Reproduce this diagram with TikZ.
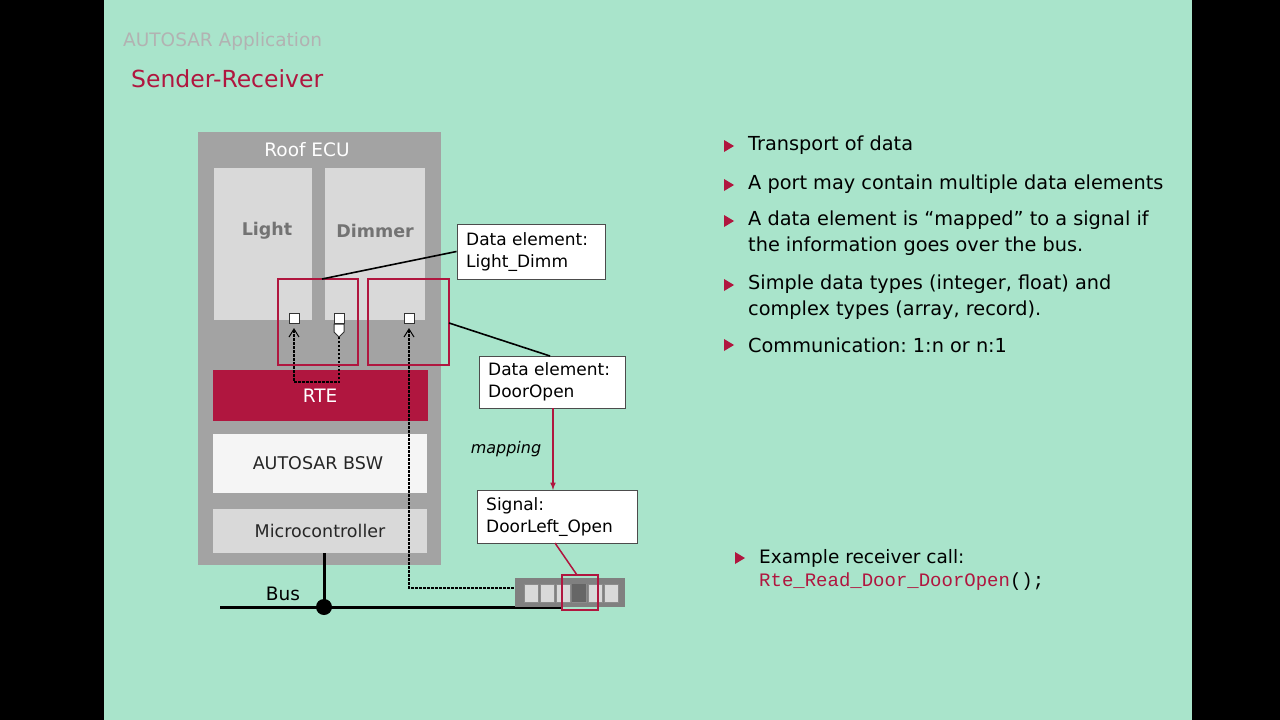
\documentclass[tikz,border=0pt]{standalone}
\usepackage{fontspec}
\setmainfont{DejaVu Sans}
\setmonofont{Liberation Mono}
\begin{document}
\begin{tikzpicture}[x=1pt,y=-1pt,
 txt/.style={inner sep=0pt,anchor=west,font=\fontsize{19.3}{26}\selectfont},
 lbl/.style={draw=black!70,fill=white,line width=1pt,inner sep=0pt},
 redbox/.style={draw=crim,line width=2.2pt},
 port/.style={draw=black!80,fill=white,line width=1pt,minimum size=10pt,inner sep=0pt},
 dsh/.style={line width=2pt,dash pattern=on 2.5pt off 1.5pt}]
\definecolor{bg}{HTML}{A9E4CB}
\definecolor{crim}{HTML}{B0163F}
\definecolor{ecu}{HTML}{A3A3A3}
\definecolor{lg}{HTML}{D9D9D9}
\fill[black] (0,0) rectangle (1280,720);
\fill[bg] (104,0) rectangle (1192,720);
\useasboundingbox (0,0) rectangle (1280,720);
\node[txt,text=black!30,font=\fontsize{18.5}{20}\selectfont] (t1) at (123,41) {AUTOSAR Application};
\node[txt,text=crim,font=\fontsize{23.5}{26}\selectfont] (t2) at (131,79) {Sender-Receiver};
% ECU
\fill[ecu] (198,132) rectangle (441,565);
\node[text=white,font=\fontsize{18.5}{20}\selectfont] (roof) at (307,150) {Roof ECU};
\fill[lg] (214,168) rectangle (312,320);
\fill[lg] (325,168) rectangle (425,320);
\node[text=black!55,font=\bfseries\fontsize{17.5}{20}\selectfont] (light) at (267,231) {Light};
\node[text=black!55,font=\bfseries\fontsize{17.5}{20}\selectfont] (dim) at (375,231) {Dimmer};
\fill[crim] (213,370) rectangle (428,421);
\node[text=white,font=\fontsize{18.5}{20}\selectfont] (rte) at (320,396) {RTE};
\fill[black!4] (213,434) rectangle (427,493);
\node[font=\fontsize{17.5}{20}\selectfont,text=black!85] (bsw) at (318,463) {AUTOSAR BSW};
\fill[lg] (213,509) rectangle (427,553);
\node[font=\fontsize{17.5}{20}\selectfont,text=black!85] (mc) at (320,531) {Microcontroller};
% dashed
\draw[dsh] (294,330) -- (294,382) -- (339,382) -- (339,335);
\draw[dsh] (409,330) -- (409,588) -- (515,588);
% ports
\node[port] (p1) at (294,318) {};
\node[port] (p2) at (339,318) {};
\node[port] (p3) at (409,318) {};
\draw[line width=1pt] (289,337) -- (294,329) -- (299,337);
\draw[line width=1pt] (404,337) -- (409,329) -- (414,337);
\draw[fill=white,draw=black!80,line width=1pt] (334,324) -- (344,324) -- (344,332) -- (339,337) -- (334,332) -- cycle;
\draw[redbox] (278,279) rectangle (358,365);
\draw[redbox] (368,279) rectangle (449,365);
\coordinate (rb1) at (322,279);
\coordinate (rb2) at (449,323);
% labels
\node[lbl,minimum width=148pt,minimum height=55pt] (de1) at (531,251.5) {};
\node[txt,font=\fontsize{17}{22}\selectfont,align=left] at (466,252) {Data element:\\Light\_Dimm};
\node[lbl,minimum width=146pt,minimum height=52pt] (de2) at (552,382) {};
\node[txt,font=\fontsize{17}{22}\selectfont,align=left] at (488,382) {Data element:\\DoorOpen};
\node[lbl,minimum width=160pt,minimum height=53pt] (sig) at (557,516.5) {};
\node[txt,font=\fontsize{17}{22}\selectfont,align=left] at (486,517) {Signal:\\DoorLeft\_Open};
\node[font=\itshape\fontsize{16}{18}\selectfont] (map) at (506,449) {mapping};
\draw[line width=1.6pt] (rb1) -- (de1.west);
\draw[line width=1.6pt] (rb2) -- (550,356);
\draw[crim,line width=1.5pt,-latex] (553,408) -- (553,490);
% bus
\draw[line width=3pt] (324,553) -- (324,607);
\draw[line width=3pt] (220,607) -- (562,607);
\fill (324,607) circle (8);
\node[font=\fontsize{18.5}{20}\selectfont] (bus) at (283,594) {Bus};
% frame
\fill[black!50] (515,578) rectangle (625,607);
\foreach \i in {0,...,5} { \fill[lg,draw=black!45] (524+\i*16,584) rectangle (538+\i*16,602); }
\fill[black!60] (572,584) rectangle (586,602);
\draw[redbox] (562,575) rectangle (598,610);
\draw[crim,line width=1.5pt] (555,543) -- (577,575);
% bullets
\foreach \y in {146,185,221,285,345} { \fill[crim] (724,\y-6) -- (734,\y) -- (724,\y+6) -- cycle; }
\node[txt] (b1) at (748,145) {Transport of data};
\node[txt] (b2) at (748,184) {A port may contain multiple data elements};
\node[txt,align=left] (b3) at (748,233) {A data element is “mapped” to a signal if\\the information goes over the bus.};
\node[txt,align=left] (b4) at (748,297) {Simple data types (integer, float) and\\complex types (array, record).};
\node[txt] (b5) at (748,345) {Communication:\ 1:n or n:1};
\fill[crim] (735,552) -- (745,558) -- (735,564) -- cycle;
\node[txt,font=\fontsize{18.5}{20}\selectfont] (ex) at (759,558) {Example receiver call:};
\node[txt,font=\ttfamily\fontsize{19}{20}\selectfont] (code) at (759,582) {\textcolor{crim}{Rte\_Read\_Door\_DoorOpen}();};
\fill[black] (1192,0) rectangle (1280,720);
\end{tikzpicture}
\end{document}
